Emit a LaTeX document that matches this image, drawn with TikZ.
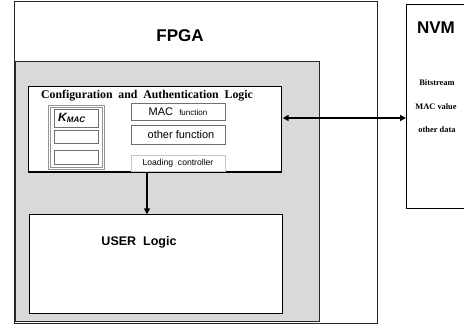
\documentclass[tikz,border=0pt]{standalone}
\usepackage{fontspec}
\setmainfont{Liberation Serif}
\setsansfont{Liberation Sans}
\usetikzlibrary{arrows.meta,calc}
\definecolor{panel}{HTML}{D9D9D9}
\definecolor{edgegrey}{HTML}{707070}
\begin{document}
\begin{tikzpicture}[x=1pt,y=-1pt,
  blk/.style={draw=black, line width=1.1pt, fill=white, anchor=north west, inner sep=0pt},
  fbox/.style={draw=edgegrey, line width=0.8pt, fill=white, anchor=north west, inner sep=0pt, minimum width=94pt},
  slot/.style={draw=edgegrey, line width=0.9pt, fill=white, anchor=north west, inner sep=0pt, minimum width=44pt},
  conn/.style={line width=1.8pt, -{Triangle[length=6pt,width=6pt]}},
  big/.style={font=\sffamily\bfseries\fontsize{17}{20}\selectfont},
  nvmtxt/.style={font=\rmfamily\bfseries\fontsize{8.4}{9}\selectfont}]
\useasboundingbox (0,0) rectangle (464,329);
% FPGA outer
\node[draw=black!85, line width=0.8pt, anchor=north west, minimum width=363pt, minimum height=322pt, inner sep=0pt] (fpga) at (14,1) {};
\node[big] (fpgat) at (180,36) {FPGA};
% grey panel
\node[draw=black!85, line width=1.1pt, fill=panel, anchor=north west, minimum width=304pt, minimum height=260pt, inner sep=0pt] (panel) at (15,61) {};
% configuration box
\node[blk, minimum width=253pt, minimum height=85pt] (cfg) at (28,86) {};
\node[font=\rmfamily\bfseries\fontsize{11.8}{14}\selectfont, inner sep=0pt] (cfgt) at (147,95.5) {Configuration\ \ and\ \ Authentication\ \ Logic};
% key store
\node[draw=gray!85, line width=0.8pt, double=white, double distance=0.9pt, fill=white, anchor=north west, minimum width=54pt, minimum height=62pt, inner sep=0pt] (keys) at (49,106) {};
\node[slot, minimum height=18pt] (k1) at (54,109) {};
\node[anchor=west, inner sep=0pt, font=\sffamily\bfseries\itshape\fontsize{12}{14}\selectfont] (kmac) at (58,118) {K\textsubscript{\fontsize{8}{9}\selectfont MAC}};
\node[slot, minimum height=13pt] (k2) at (54,130) {};
\node[slot, minimum height=14pt] (k3) at (54,150) {};
% functions
\node[fbox, minimum height=17.5pt] (mac) at (131,103) {};
\node[anchor=center, inner sep=0pt, font=\sffamily\fontsize{11}{13}\selectfont] (mact) at (178,112) {MAC\ \ {\fontsize{8}{9}\selectfont function}};
\node[fbox, minimum height=18.5pt] (oth) at (131,125.3) {};
\node[anchor=center, inner sep=0pt, font=\sffamily\fontsize{11}{13}\selectfont] (otht) at (181,135) {other function};
\node[draw=gray!45, line width=0.8pt, fill=white, anchor=north west, inner sep=0pt, minimum width=94pt, minimum height=16pt] (load) at (131,155.3) {};
\node[anchor=center, inner sep=0pt, font=\sffamily\fontsize{8.6}{10}\selectfont] (loadt) at (178,163.5) {Loading\ \ controller};
\draw[black, line width=1.1pt] (cfg.south west) -- (cfg.south east);
% user logic
\node[blk, minimum width=253pt, minimum height=99pt] (user) at (29,214.3) {};
\node[font=\sffamily\bfseries\fontsize{12.5}{15}\selectfont] (usert) at (139,242.5) {USER\ \ Logic};
% NVM
\node[draw=black, line width=0.9pt, anchor=north west, minimum width=64pt, minimum height=204pt, inner sep=0pt] (nvm) at (406,4) {};
\node[big] (nvmt) at (436,27.5) {NVM};
\node[nvmtxt] (b1) at (437,83) {Bitstream};
\node[nvmtxt] (b2) at (436,106.5) {MAC value};
\node[nvmtxt] (b3) at (437,130) {other data};
% connectors
\coordinate (ax) at (147,0);
\coordinate (ay) at (0,118);
\draw[conn] (cfg.south -| ax) -- (user.north -| ax);
\draw[conn, {Triangle[length=6pt,width=6pt]}-{Triangle[length=6pt,width=6pt]}] ($(cfg.east |- ay)+(0.6,0)$) -- (nvm.west |- ay);
\end{tikzpicture}
\end{document}
